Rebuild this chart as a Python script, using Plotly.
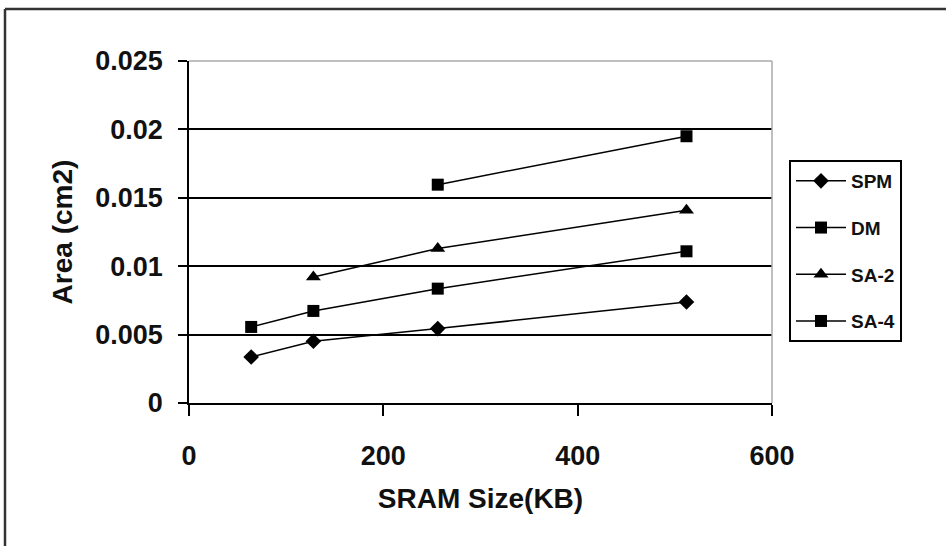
import plotly.graph_objects as go

sram_kb = [64, 128, 256, 512]
spm = [0.00336, 0.00451, 0.00544, 0.00738]
dm = [0.00556, 0.00673, 0.00836, 0.01109]
sa2_x = [128, 256, 512]
sa2 = [0.00921, 0.01129, 0.01409]
sa4_x = [256, 512]
sa4 = [0.01596, 0.01950]

x_ticks = [0, 200, 400, 600]
y_ticks = [0, 0.005, 0.01, 0.015, 0.02, 0.025]
y_tick_text = ["0", "0.005", "0.01", "0.015", "0.02", "0.025"]

FONT = "Liberation Sans, Arial, sans-serif"
TXT = "#111111"

fig = go.Figure()
line = dict(color="black", width=1.5)
series = [
    (sram_kb, spm, "SPM", "diamond", 12),
    (sram_kb, dm, "DM", "square", 12),
    (sa2_x, sa2, "SA-2", "triangle-up", 13),
    (sa4_x, sa4, "SA-4", "square", 12),
]
for xs, ys, name, sym, sz in series:
    fig.add_trace(go.Scatter(x=xs, y=ys, name=name, legendgroup=name, mode="lines+markers",
                             line=line, marker=dict(symbol=sym, size=sz, color="black")))

fig.update_layout(
    width=946, height=546,
    margin=dict(l=189, r=174, t=61, b=143),
    paper_bgcolor="white", plot_bgcolor="white",
    font=dict(family=FONT, color=TXT, size=20),
    showlegend=True,
    legend=dict(x=(789 - 189) / 583, y=(403 - 160) / 342, xanchor="left", yanchor="top",
                bordercolor="black", borderwidth=2, bgcolor="white",
                font=dict(family=FONT, size=19, color=TXT, weight="bold"),
                traceorder="grouped", tracegroupgap=19, itemwidth=50),
    xaxis=dict(range=[0, 600], tickvals=x_ticks, ticks="outside", ticklen=11,
               tickwidth=1.5, tickcolor="black", showline=True, linecolor="black",
               linewidth=1.5, showgrid=False, zeroline=False, ticklabelstandoff=17,
               tickfont=dict(family=FONT, size=27, color=TXT, weight="bold"),
               title=dict(text="SRAM Size(KB)", font=dict(size=28, color=TXT, weight="bold"),
                          standoff=18)),
    yaxis=dict(range=[0, 0.025], tickvals=y_ticks, ticktext=y_tick_text, ticks="outside",
               ticklen=9, tickwidth=1.5, tickcolor="black", showline=True,
               linecolor="black", linewidth=1.5, showgrid=True, gridcolor="black",
               gridwidth=1.5, zeroline=False, ticklabelstandoff=10,
               tickfont=dict(family=FONT, size=27, color=TXT, weight="bold"),
               title=dict(text="Area (cm2)", font=dict(size=28, color=TXT, weight="bold"),
                          standoff=14)),
)

# light gray plot border on top and right
fig.add_shape(type="line", xref="paper", yref="paper", x0=0, x1=1, y0=1, y1=1,
              line=dict(color="#aaaaaa", width=1.5))
fig.add_shape(type="line", xref="paper", yref="paper", x0=1, x1=1, y0=0, y1=1,
              line=dict(color="#aaaaaa", width=1.5))
# outer frame (clipped at right and bottom)
fx = (5 - 189) / 583
fy = (546 - 143 - 9) / 342
fig.add_shape(type="line", xref="paper", yref="paper", x0=fx, x1=1.5, y0=fy, y1=fy,
              line=dict(color="#333333", width=2.5))
fig.add_shape(type="line", xref="paper", yref="paper", x0=fx, x1=fx, y0=fy, y1=-0.5,
              line=dict(color="#333333", width=2.5))

fig.write_html("out.html")
